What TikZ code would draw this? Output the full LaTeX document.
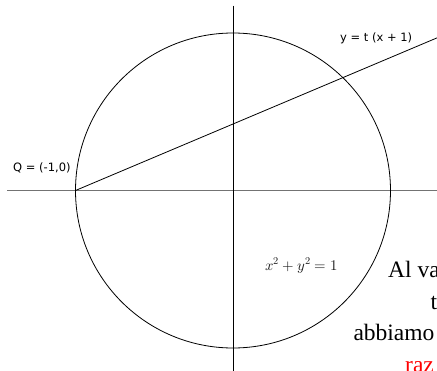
\documentclass[tikz,border=0pt]{standalone}
\usepackage{fontspec}
\setmainfont{Liberation Serif}
\newfontfamily\labelfont{DejaVu Sans}
\usepackage{unicode-math}
\setmathfont{Latin Modern Math}
\begin{document}
\begin{tikzpicture}[x=1pt,y=-1pt,
  axis/.style={line width=1.2pt},
  lbl/.style={font=\labelfont\fontsize{11.5}{13}\selectfont, anchor=base west, inner sep=0pt},
  body/.style={font=\fontsize{23.5}{28}\selectfont, anchor=base west, inner sep=0pt}]
\useasboundingbox (0,0) rectangle (437,370);
\coordinate (O) at (233,190.5);
\coordinate (Q) at (75.5,190.5);
\coordinate (hl) at (7,190.5);
\coordinate (hr) at (440,190.5);
\coordinate (vt) at (233,5.5);
\coordinate (vb) at (233,372);
\coordinate (lend) at (445,34.5);
\draw[axis, black!55] (hl) -- (hr);
\draw[line width=0.8pt] (vt) -- (vb);
\draw[line width=0.8pt] (O) circle (157.5);
\draw[line width=0.8pt] (Q) -- (lend);
\node[lbl] (ql) at (13,171.5) {Q = (-1,0)};
\node[lbl] (ll) at (340,41.5) {y = t (x + 1)};
\node[anchor=base west, inner sep=0pt, text=black!90, font=\fontsize{14.8}{17}\selectfont] (eq) at (265,270) {$x^2+y^2=1$};
\node[body] (t1) at (388,277.3) {Al valore};
\node[body] (t2) at (430.5,309) {t};
\node[body] (t3) at (353.3,340.7) {abbiamo};
\node[body, text=red] (t4) at (405,372.4) {raz};
\end{tikzpicture}
\end{document}
